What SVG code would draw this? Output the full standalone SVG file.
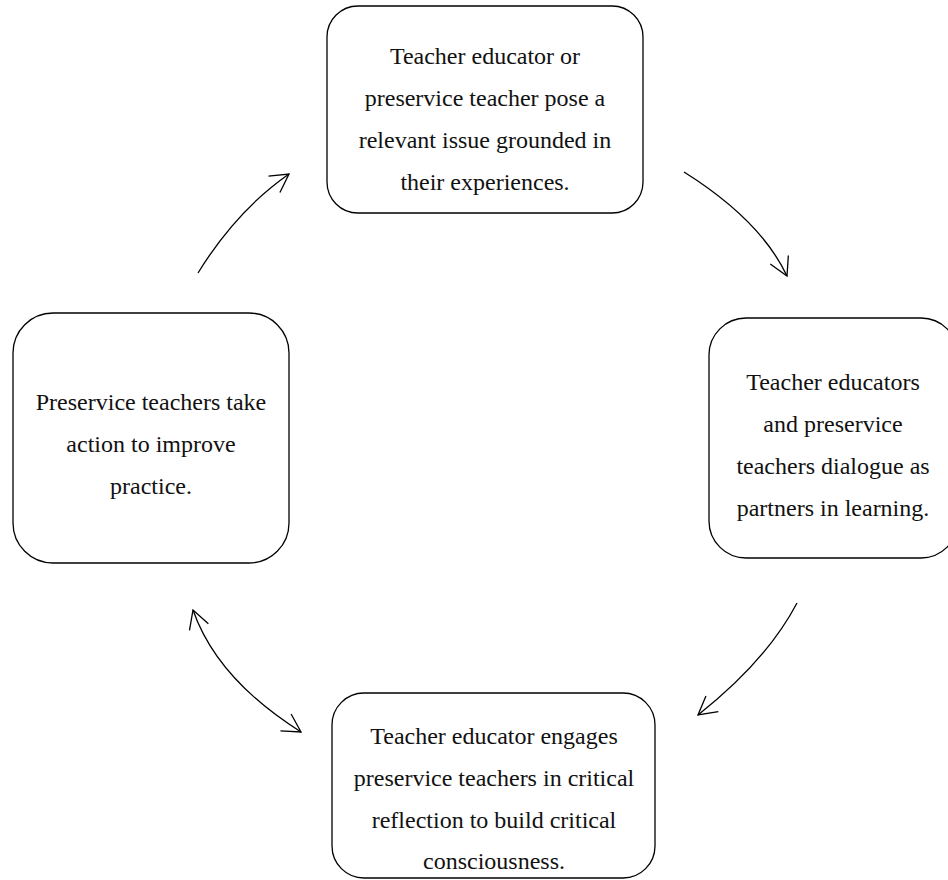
<svg xmlns="http://www.w3.org/2000/svg" width="948" height="880" viewBox="0 0 948 880">
<style>
.box{fill:#fff;stroke:#000;stroke-width:1.3}
.t{font-family:"Liberation Serif","Times New Roman",serif;font-size:24px;fill:#111;text-anchor:middle}
.c{fill:none;stroke:#000;stroke-width:1.3}
</style>
<defs>
<marker id="ah" markerUnits="userSpaceOnUse" markerWidth="24" markerHeight="24" viewBox="-20 -12 24 24" refX="0" refY="0" orient="auto-start-reverse">
<path d="M-18,-10 L0,0 L-18,10" fill="none" stroke="#000" stroke-width="1.3"/>
</marker>
</defs>
<rect width="948" height="880" fill="#fff"/>
<g id="node-top">
<rect class="box" x="327" y="6" width="316" height="207" rx="31"/>
<text class="t" x="485" y="64">Teacher educator or</text>
<text class="t" x="485" y="106">preservice teacher pose a</text>
<text class="t" x="485" y="148">relevant issue grounded in</text>
<text class="t" x="485" y="190">their experiences.</text>
</g>
<g id="node-right">
<rect class="box" x="709" y="318" width="249" height="240" rx="37"/>
<text class="t" x="833" y="390">Teacher educators</text>
<text class="t" x="833" y="432">and preservice</text>
<text class="t" x="833" y="474">teachers dialogue as</text>
<text class="t" x="833" y="516">partners in learning.</text>
</g>
<g id="node-bottom">
<rect class="box" x="332" y="693" width="323" height="185" rx="32"/>
<text class="t" x="494" y="744">Teacher educator engages</text>
<text class="t" x="494" y="786">preservice teachers in critical</text>
<text class="t" x="494" y="828">reflection to build critical</text>
<text class="t" x="494" y="869">consciousness.</text>
</g>
<g id="node-left">
<rect class="box" x="13" y="313" width="276" height="250" rx="40"/>
<text class="t" x="151" y="410">Preservice teachers take</text>
<text class="t" x="151" y="452">action to improve</text>
<text class="t" x="151" y="494">practice.</text>
</g>
<g id="connectors">
<path class="c" d="M198,273 Q236.5,210.5 289,174" marker-end="url(#ah)"/>
<path class="c" d="M684,172 Q760.5,220 787,276" marker-end="url(#ah)"/>
<path class="c" d="M797,603 Q766.5,661 698,715" marker-end="url(#ah)"/>
<path class="c" d="M193,610 Q217,679 301,732" marker-start="url(#ah)" marker-end="url(#ah)"/>
</g>
</svg>
